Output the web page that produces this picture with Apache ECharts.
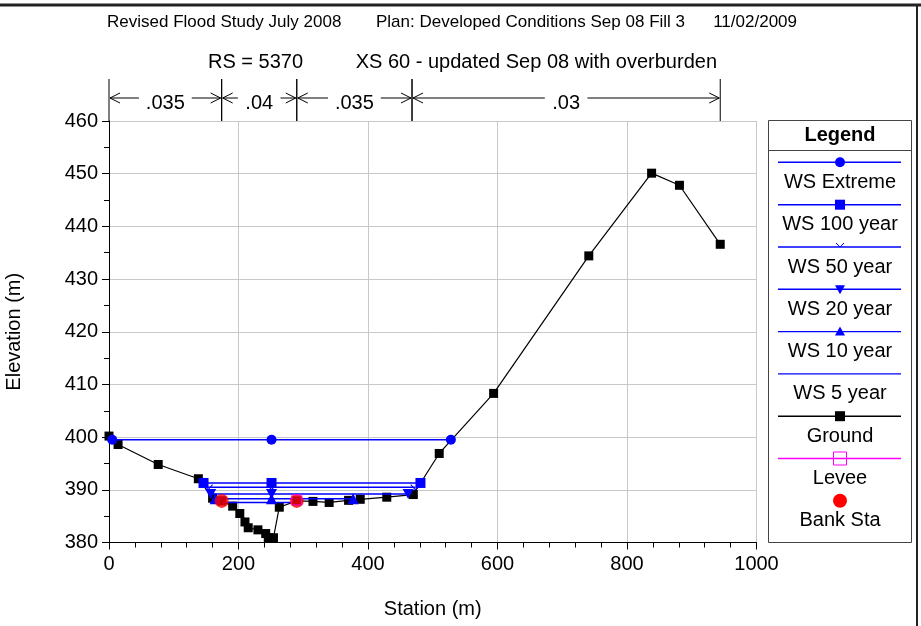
<!DOCTYPE html>
<html><head><meta charset="utf-8">
<script src="https://cdn.jsdelivr.net/npm/echarts@6/dist/echarts.min.js"></script>
<style>html,body{margin:0;padding:0;background:#fff}#c{width:921px;height:626px}</style>
</head><body><div id="c"></div>
<script>
// ---- data ----
const groundStation = [0, 14, 76, 138, 160, 174, 191, 202, 210, 215, 230, 242, 246, 254, 263, 290, 315, 340, 370, 388, 429, 470, 510, 594, 741, 838, 881, 944];
const groundElev    = [400.2, 398.6, 394.8, 392.1, 388.4, 387.9, 386.9, 385.5, 383.9, 382.8, 382.4, 381.7, 380.9, 380.9, 386.7, 387.9, 387.8, 387.6, 388.0, 388.2, 388.6, 389.1, 396.9, 408.3, 434.4, 450.1, 447.8, 436.6];

const wsNames = ['WS Extreme', 'WS 100 year', 'WS 50 year', 'WS 20 year', 'WS 10 year', 'WS 5 year'];
const wsElev  = [399.5, 391.3, 390.5, 389.2, 388.3, 387.6];
const wsLeft  = [5, 146, 153, 157, 164, 176];
const wsMid   = [251, 251, 251, 251, 251, null];
const wsRight = [528, 481, 473, 462, 377, 280];

const bankStation = [174, 290];
const bankElev    = [387.9, 387.9];
const leveeStation = [290];
const leveeElev    = [388.1];

const nBounds = [0, 174, 290, 468, 944];
const nValues = ['.035', '.04', '.035', '.03'];

const xTicks = {min: 0, max: 1000, step: 200};
const yTicks = {min: 380, max: 460, step: 10};

const titleTop = ['Revised Flood Study July 2008', 'Plan: Developed Conditions Sep 08 Fill 3', '11/02/2009'];
const titleMain = ['RS = 5370', 'XS 60 - updated Sep 08 with overburden'];
const legendTitle = 'Legend';
const legendItems = ['WS Extreme', 'WS 100 year', 'WS 50 year', 'WS 20 year', 'WS 10 year', 'WS 5 year', 'Ground', 'Levee', 'Bank Sta'];

// ---- chart ----
const FONT = "'Liberation Sans', Arial, Helvetica, sans-serif";
const BLUE = '#0000ff';
const chart = echarts.init(document.getElementById('c'), null, {renderer: 'canvas'});

const wsSymbols = [
  {symbol: 'circle', size: 10, style: {color: BLUE}},
  {symbol: 'rect', size: 10, style: {color: BLUE}},
  {symbol: 'path://M0,0 L5,6 L10,0', size: [9, 5], style: {color: 'transparent', borderColor: BLUE, borderWidth: 1}},
  {symbol: 'path://M0,0 L10,0 L5,9 Z', size: [11, 10], style: {color: BLUE}},
  {symbol: 'triangle', size: 11, style: {color: BLUE}},
  {symbol: 'none', size: 0, style: {color: BLUE}}
];

const series = [];
series.push({
  name: 'Ground', type: 'line', z: 3,
  data: groundStation.map((s, i) => [s, groundElev[i]]),
  symbol: 'rect', symbolSize: 9, showAllSymbol: true,
  itemStyle: {color: '#000'}, lineStyle: {color: '#000', width: 1.2}
});
wsNames.forEach((n, i) => {
  const pts = [[wsLeft[i], wsElev[i]]];
  if (wsMid[i] !== null) pts.push([wsMid[i], wsElev[i]]);
  pts.push([wsRight[i], wsElev[i]]);
  series.push({
    name: n, type: 'line', z: 4,
    data: pts, symbol: wsSymbols[i].symbol, symbolSize: wsSymbols[i].size, showAllSymbol: true,
    itemStyle: wsSymbols[i].style, lineStyle: {color: BLUE, width: 1.4}
  });
});
series.push({
  name: 'Bank Sta', type: 'scatter', z: 5,
  data: bankStation.map((s, i) => [s, bankElev[i]]),
  symbol: 'circle', symbolSize: 14, itemStyle: {color: '#ff0000'}
});
series.push({
  name: 'Levee', type: 'scatter', z: 6,
  data: leveeStation.map((s, i) => [s, leveeElev[i]]),
  symbol: 'rect', symbolSize: 10, itemStyle: {color: 'transparent', borderColor: '#ff00ff', borderWidth: 1}
});
series.push({
  name: 'nvalues', type: 'custom', z: 7, clip: false, silent: true,
  data: nValues.map((v, i) => [nBounds[i], nBounds[i + 1], yTicks.max]),
  encode: {x: [0, 1], y: 2},
  renderItem: function (params, api) {
    const lab = nValues[params.dataIndex];
    const p0 = api.coord([api.value(0), api.value(2)]);
    const p1 = api.coord([api.value(1), api.value(2)]);
    const yTop = p0[1] - 42, yA = p0[1] - 23;
    const cx = (p0[0] + p1[0]) / 2;
    const tw = lab.length * 10.2;
    const st = {stroke: '#000', lineWidth: 1, fill: null};
    return {type: 'group', children: [
      {type: 'line', shape: {x1: p0[0], y1: yTop, x2: p0[0], y2: p0[1]}, style: st},
      {type: 'line', shape: {x1: p1[0], y1: yTop, x2: p1[0], y2: p1[1]}, style: st},
      {type: 'line', shape: {x1: p0[0] + 1, y1: yA, x2: cx - tw / 2 - 6, y2: yA}, style: st},
      {type: 'line', shape: {x1: cx + tw / 2 + 6, y1: yA, x2: p1[0] - 1, y2: yA}, style: st},
      {type: 'polyline', shape: {points: [[p0[0] + 11, yA - 5], [p0[0] + 1, yA], [p0[0] + 11, yA + 5]]}, style: st},
      {type: 'polyline', shape: {points: [[p1[0] - 11, yA - 5], [p1[0] - 1, yA], [p1[0] - 11, yA + 5]]}, style: st},
      {type: 'text', style: {text: lab, x: cx, y: yA + 5, align: 'center', verticalAlign: 'middle', fontSize: 20, fontFamily: FONT, fill: '#000'}}
    ]};
  }
});

// frame, titles and legend graphics
const g = [];
g.push({type: 'line', shape: {x1: 0, y1: 5, x2: 921, y2: 5}, style: {stroke: '#222', lineWidth: 3}});
g.push({type: 'line', shape: {x1: 917, y1: 5, x2: 917, y2: 626}, style: {stroke: '#222', lineWidth: 2}});
g.push({type: 'text', style: {text: titleTop[0], x: 107, y: 22, verticalAlign: 'middle', fontSize: 17, fontFamily: FONT, fill: '#000'}});
g.push({type: 'text', style: {text: titleTop[1], x: 376, y: 22, verticalAlign: 'middle', fontSize: 17, fontFamily: FONT, fill: '#000'}});
g.push({type: 'text', style: {text: titleTop[2], x: 797, y: 22, align: 'right', verticalAlign: 'middle', fontSize: 17, fontFamily: FONT, fill: '#000'}});
g.push({type: 'text', style: {text: titleMain[0], x: 208, y: 62, verticalAlign: 'middle', fontSize: 20, fontFamily: FONT, fill: '#000'}});
g.push({type: 'text', style: {text: titleMain[1], x: 717, y: 62, align: 'right', verticalAlign: 'middle', fontSize: 20, fontFamily: FONT, fill: '#000'}});

const LX = 768.5, LY = 120.5, LW = 143, LH = 422;
g.push({type: 'rect', shape: {x: LX, y: LY, width: LW, height: LH}, style: {stroke: '#444', lineWidth: 1, fill: '#fff'}, z: 10});
g.push({type: 'line', shape: {x1: LX, y1: 150.5, x2: LX + LW, y2: 150.5}, style: {stroke: '#444', lineWidth: 1}, z: 11});
g.push({type: 'text', style: {text: legendTitle, x: 840, y: 135.5, align: 'center', verticalAlign: 'middle', fontSize: 20, fontWeight: 'bold', fontFamily: FONT, fill: '#000'}, z: 11});
const lineYs = [162.3, 204.7, 247, 289.3, 331.6, 373.9, 416.2, 458.5, 500.8];
const cxL = 840;
legendItems.forEach((name, i) => {
  const ly = lineYs[i];
  const col = i < 6 ? BLUE : (i === 6 ? '#000' : '#ff00ff');
  if (i < 8) g.push({type: 'line', shape: {x1: 778, y1: ly, x2: 901, y2: ly}, style: {stroke: col, lineWidth: 1.4}, z: 11});
  let m = null;
  if (i === 0) m = {type: 'circle', shape: {cx: cxL, cy: ly, r: 5}, style: {fill: BLUE}};
  if (i === 1) m = {type: 'rect', shape: {x: cxL - 5, y: ly - 5, width: 10, height: 10}, style: {fill: BLUE}};
  if (i === 2) m = {type: 'polyline', shape: {points: [[cxL - 4, ly - 4], [cxL, ly], [cxL + 4, ly - 4]]}, style: {stroke: BLUE, lineWidth: 1, fill: null}};
  if (i === 3) m = {type: 'polygon', shape: {points: [[cxL - 5, ly - 4], [cxL + 5, ly - 4], [cxL, ly + 5]]}, style: {fill: BLUE}};
  if (i === 4) m = {type: 'polygon', shape: {points: [[cxL - 5, ly + 4], [cxL + 5, ly + 4], [cxL, ly - 5]]}, style: {fill: BLUE}};
  if (i === 6) m = {type: 'rect', shape: {x: cxL - 5, y: ly - 5, width: 10, height: 10}, style: {fill: '#000'}};
  if (i === 7) m = {type: 'rect', shape: {x: cxL - 6.5, y: ly - 6.5, width: 13, height: 13}, style: {fill: null, stroke: '#ff00ff', lineWidth: 1}};
  if (i === 8) m = {type: 'circle', shape: {cx: cxL, cy: ly, r: 7}, style: {fill: '#ff0000'}};
  if (m) { m.z = 12; g.push(m); }
  g.push({type: 'text', style: {text: name, x: cxL, y: ly + 20, align: 'center', verticalAlign: 'middle', fontSize: 20, fontFamily: FONT, fill: '#000'}, z: 12});
});

chart.setOption({
  animation: false,
  backgroundColor: '#fff',
  textStyle: {fontFamily: FONT},
  grid: {left: 109, right: 164.5, top: 121, bottom: 83.5, containLabel: false, outerBoundsMode: 'none'},
  xAxis: {
    type: 'value', min: xTicks.min, max: xTicks.max, interval: xTicks.step,
    name: 'Station (m)', nameLocation: 'middle', nameGap: 57,
    nameTextStyle: {fontSize: 20, color: '#000', fontFamily: FONT},
    axisLine: {show: true, onZero: false, lineStyle: {color: '#000', width: 1}},
    axisTick: {show: true, inside: false, length: 7, lineStyle: {color: '#000', width: 1}},
    minorTick: {show: true, splitNumber: 5, length: 5, lineStyle: {color: '#000', width: 1}},
    axisLabel: {fontSize: 20, color: '#000', margin: 12, fontFamily: FONT, formatter: v => String(v)},
    splitLine: {show: true, lineStyle: {color: '#c8c8c8', width: 1}},
    minorSplitLine: {show: false}
  },
  yAxis: {
    type: 'value', min: yTicks.min, max: yTicks.max, interval: yTicks.step,
    name: 'Elevation (m)', nameLocation: 'middle', nameGap: 85, nameRotate: 90,
    nameTextStyle: {fontSize: 20, color: '#000', fontFamily: FONT},
    axisLine: {show: true, onZero: false, lineStyle: {color: '#000', width: 1}},
    axisTick: {show: true, inside: false, length: 7, lineStyle: {color: '#000', width: 1}},
    minorTick: {show: true, splitNumber: 2, length: 5, lineStyle: {color: '#000', width: 1}},
    axisLabel: {fontSize: 20, color: '#000', margin: 11, fontFamily: FONT, formatter: v => String(v)},
    splitLine: {show: true, lineStyle: {color: '#c8c8c8', width: 1}}
  },
  series: series,
  graphic: g
});
</script></body></html>
